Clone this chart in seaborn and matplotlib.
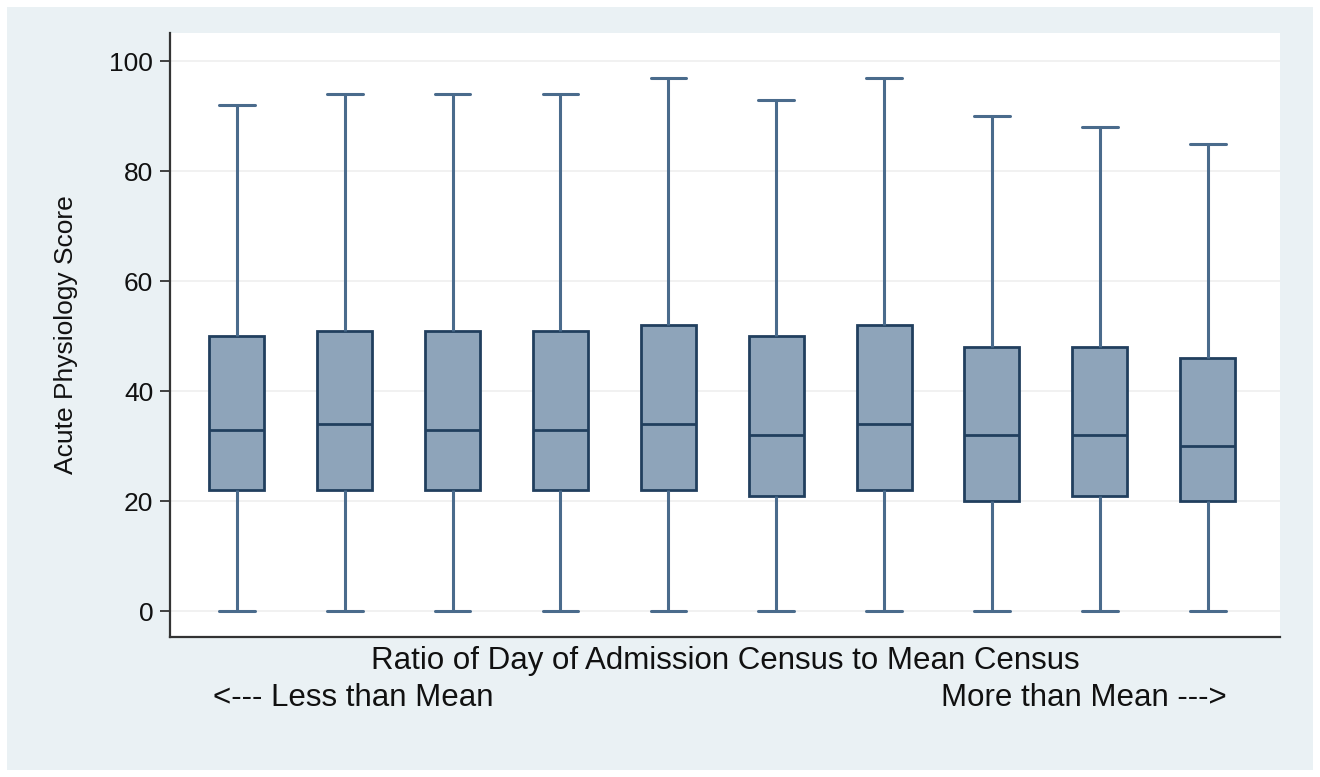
import numpy as np
import pandas as pd
import seaborn as sns
import matplotlib.pyplot as plt

# Census-ratio groups (lowest to highest) and their box-plot summaries
groups = ["1", "2", "3", "4", "5", "6", "7", "8", "9", "10"]
lower_adj = [0, 0, 0, 0, 0, 0, 0, 0, 0, 0]
q1 = [22, 22, 22, 22, 22, 21, 22, 20, 21, 20]
median = [33, 34, 33, 33, 34, 32, 34, 32, 32, 30]
q3 = [50, 51, 51, 51, 52, 50, 52, 48, 48, 46]
upper_adj = [92, 94, 94, 94, 97, 93, 97, 90, 88, 85]

y_ticks = [0, 20, 40, 60, 80, 100]

# Long-form table: five summary points per group reproduce the box exactly
rows = []
for g, lo, a, m, b, hi in zip(groups, lower_adj, q1, median, q3, upper_adj):
    for v in (lo, a, m, b, hi):
        rows.append({"group": g, "score": v})
df = pd.DataFrame(rows)

sns.set_theme(style="white")
plt.rcParams["font.family"] = ["Liberation Sans", "DejaVu Sans"]

panel_bg = "#EAF1F4"
fig = plt.figure(figsize=(13.2, 7.77), dpi=100, facecolor="white")
fig.patches.append(plt.Rectangle((7 / 1320, 7 / 777), 1306 / 1320, 763 / 777,
                                 transform=fig.transFigure, facecolor=panel_bg,
                                 edgecolor="none", zorder=-10))
ax = fig.add_axes([170 / 1320, 1 - 637 / 777, 1110 / 1320, 604 / 777])
ax.set_facecolor("white")

box_edge = "#213F5E"
line_col = "#4A6B8C"
sns.boxplot(data=df, x="group", y="score", order=groups, ax=ax,
            whis=(0, 100), width=0.51, color="#8EA4BA", saturation=1,
            linewidth=2,
            boxprops=dict(facecolor="#8EA4BA", edgecolor=box_edge, linewidth=2),
            medianprops=dict(color=box_edge, linewidth=2),
            whiskerprops=dict(color=line_col, linewidth=2.2),
            capprops=dict(color=line_col, linewidth=2.2),
            capwidths=0.33, showfliers=False)

ax.set_xlim(-0.62, 9.67)
ax.set_ylim(-4.7, 105.1)
ax.set_yticks(y_ticks)
ax.set_yticklabels([str(t) for t in y_ticks], fontsize=19)
ax.set_xticks([])
ax.yaxis.grid(True, color="#EFEFEF", linewidth=1.2)
ax.set_axisbelow(True)
ax.tick_params(axis="y", direction="out", length=7, width=1.3, color="#333333",
               left=True, pad=5, labelcolor="#111111")

for side in ("top", "right"):
    ax.spines[side].set_visible(False)
for side in ("left", "bottom"):
    ax.spines[side].set_color("#333333")
    ax.spines[side].set_linewidth(1.6)

ax.set_xlabel("")
ax.set_ylabel("Acute Physiology Score", fontsize=19, color="#111111", labelpad=23)

fig.text(725 / 1320, 1 - 661 / 777, "Ratio of Day of Admission Census to Mean Census",
         ha="center", va="center", fontsize=22.5, color="#111111")
fig.text(213 / 1320, 1 - 698 / 777, "<--- Less than Mean",
         ha="left", va="center", fontsize=22.5, color="#111111")
fig.text(1227 / 1320, 1 - 698 / 777, "More than Mean --->",
         ha="right", va="center", fontsize=22.5, color="#111111")

fig.savefig("out.png", dpi=100, facecolor="white")
